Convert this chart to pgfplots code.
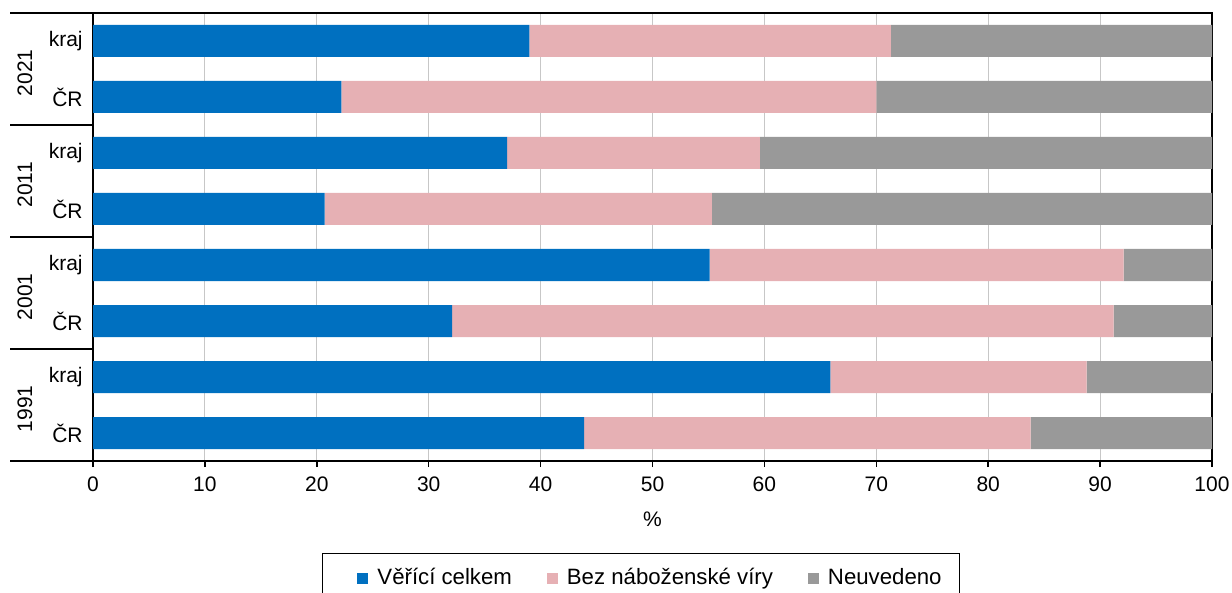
\documentclass[border=0pt]{standalone}
\usepackage{fontspec}
\setmainfont{Liberation Sans}
\usepackage{pgfplots}
\pgfplotsset{compat=1.18}
\definecolor{cblue}{RGB}{0,112,192}
\definecolor{cpink}{RGB}{230,176,180}
\definecolor{cgray}{RGB}{153,153,153}
\pgfplotsset{
  sqfirst/.style={legend image code/.code={\path (-10.75pt,0pt); \fill[##1] (0pt,-2.75pt) rectangle (5.5pt,2.75pt);}},
  sq/.style={legend image code/.code={\fill[##1] (0pt,-2.75pt) rectangle (5.5pt,2.75pt);}},
}
\begin{document}
\fontsize{10.5}{12.6}\selectfont
\begin{tikzpicture}
\useasboundingbox (0,0) rectangle (616pt,-296.5pt);
\begin{axis}[
  at={(46.5pt,-230.5pt)}, anchor=south west,
  scale only axis, width=559.5pt, height=224pt,
  xbar stacked, bar width=16pt,
  xmin=0, xmax=100, ymin=-0.5, ymax=7.5,
  xtick={0,10,...,100},
  ytick={0,...,7},
  yticklabels={ČR,kraj,ČR,kraj,ČR,kraj,ČR,kraj},
  y tick style={draw=none},
  yticklabel style={xshift=1.5pt},
  xticklabel style={yshift=-1pt},
  x tick style={black, line width=0.75pt},
  tick align=outside, xtick pos=bottom, ytick pos=left,
  major tick length=3pt,
  xmajorgrids, grid style={color=black!22, line width=0.5pt},
  axis line style={line width=0.75pt},
  xlabel={\%},
  xlabel style={at={(axis description cs:0.5,-0.1295)}, anchor=center},
  every tick label/.append style={font=\fontsize{10.5}{12.6}\selectfont},
  /pgf/number format/assume math mode=true,
  legend columns=3,
  legend cell align=left,
  legend style={at={(0.2046,-0.2054)}, anchor=north west, draw=black, line width=0.5pt,
    font=\fontsize{11.1}{13.3}\selectfont, inner xsep=6.75pt, inner ysep=5.4pt,
    /tikz/every odd column/.append style={column sep=2.5pt},
    /tikz/every even column/.append style={column sep=15.5pt}},
]
\addplot[fill=cblue, draw=none, sqfirst]
  coordinates {(43.9,0) (65.9,1) (32.1,2) (55.1,3) (20.7,4) (37.0,5) (22.2,6) (39.0,7)};
\addlegendentry{Věřící celkem}
\addplot[fill=cpink, draw=none, sq]
  coordinates {(39.9,0) (22.9,1) (59.1,2) (37.0,3) (34.6,4) (22.6,5) (47.8,6) (32.3,7)};
\addlegendentry{Bez náboženské víry}
\addplot[fill=cgray, draw=none, sq]
  coordinates {(16.2,0) (11.2,1) (8.8,2) (7.9,3) (44.7,4) (40.4,5) (30.0,6) (28.7,7)};
\addlegendentry{Neuvedeno}
\end{axis}
\foreach \y in {-6.5,-62.5,-118.5,-174.5,-230.5}
  \draw[line width=0.75pt] (5pt,\y pt) -- (46.5pt,\y pt);
\foreach \y/\t in {-36.4/2021,-92.4/2011,-148.4/2001,-204.4/1991}
  \node[rotate=90, inner sep=0pt] at (12.5pt,\y pt) {\t};
\end{tikzpicture}
\end{document}
